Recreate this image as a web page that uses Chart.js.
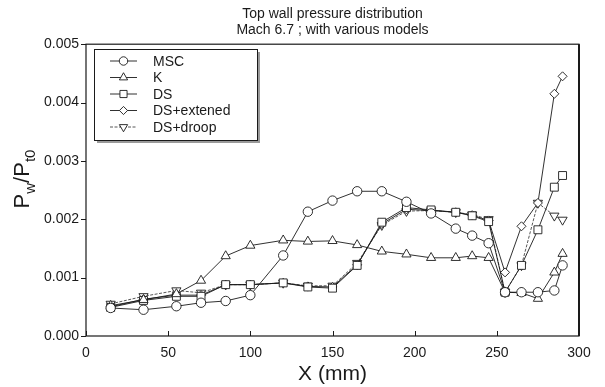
<!DOCTYPE html>
<html>
<head>
<meta charset="utf-8">
<script src="https://cdn.jsdelivr.net/npm/chart.js@4.4.1/dist/chart.umd.min.js"></script>
<style>
html,body{margin:0;padding:0;background:#fff;}
#wrap{width:605px;height:387px;position:relative;}
</style>
</head>
<body>
<div id="wrap"><canvas id="c" width="605" height="387"></canvas></div>
<script>
// ---- data ----
const xPositions = [15,35,55,70,85,100,120,135,150,165,180,195,210,225,235,245,255,265,275,285,290];
const seriesNames = ["MSC","K","DS","DS+extened","DS+droop"];
const msc      = [0.48,0.45,0.51,0.57,0.60,0.70,1.38,2.13,2.32,2.48,2.48,2.30,2.10,1.84,1.72,1.59,0.75,0.75,0.75,0.78,1.21];
const kModel   = [0.52,0.62,0.72,0.95,1.37,1.55,1.64,1.62,1.63,1.56,1.45,1.40,1.34,1.34,1.37,1.34,0.75,0.74,0.64,1.09,1.41];
const ds       = [0.49,0.61,0.68,0.68,0.88,0.88,0.91,0.84,0.82,1.21,1.95,2.20,2.16,2.12,2.06,1.96,0.75,1.21,1.82,2.55,2.75];
const dsExt    = [0.50,0.63,0.70,0.70,0.88,0.88,0.91,0.85,0.84,1.22,1.92,2.17,2.15,2.12,2.07,1.98,1.09,1.88,2.28,4.15,4.45];
const dsDroop  = [0.55,0.68,0.78,0.74,0.88,0.88,0.91,0.86,0.86,1.25,1.90,2.14,2.15,2.12,2.08,2.00,0.75,1.21,2.28,2.06,1.99];
const valueScale = 0.001; // values above are in units of 0.001
const xTicks = [0,50,100,150,200,250,300];
const yTicks = [0,0.001,0.002,0.003,0.004,0.005];
const titleLines = ["Top wall pressure distribution","Mach 6.7 ; with various models"];
const xTitle = "X (mm)";

const FONT = "'Liberation Sans', Arial, Helvetica, sans-serif";
const INK = "#1a1a1a";

function pts(arr){ return arr.map((v,i)=>({x:xPositions[i], y:v*valueScale})); }

const styles = [
  {pointStyle:'circle', rot:0, r:4.7, dash:[] , line:INK},
  {pointStyle:'triangle', rot:0, r:5.3, dash:[], line:INK},
  {pointStyle:'rect', rot:0, r:5.6, dash:[], line:INK},
  {pointStyle:'rectRot', rot:0, r:4.5, dash:[], line:INK},
  {pointStyle:'triangle', rot:180, r:5.3, dash:[3,1.5], line:"#444"}
];
const allData = [msc,kModel,ds,dsExt,dsDroop];

const datasets = allData.map((d,i)=>({
  label: seriesNames[i],
  data: pts(d),
  borderColor: styles[i].line,
  borderWidth: 0.9,
  borderDash: styles[i].dash,
  pointStyle: styles[i].pointStyle,
  pointRotation: styles[i].rot,
  pointRadius: styles[i].r,
  pointBackgroundColor: '#fff',
  pointBorderColor: INK,
  pointBorderWidth: 0.9,
  tension: 0,
  fill: false
}));

const decor = {
  id:'decor',
  afterDatasetsDraw(chart){
    const ctx = chart.ctx, a = chart.chartArea;
    const xs = chart.scales.x, ys = chart.scales.y;
    ctx.save();
    // frame
    ctx.strokeStyle = INK; ctx.lineWidth = 1.2;
    ctx.strokeRect(a.left, a.top, a.right-a.left, a.bottom-a.top);
    ctx.lineWidth = 2; ctx.beginPath(); ctx.moveTo(a.right, a.top); ctx.lineTo(a.right,a.bottom); ctx.stroke();
    // x ticks (inside)
    ctx.lineWidth = 1;
    xTicks.forEach(t=>{ const px = Math.round(xs.getPixelForValue(t))+0.5;
      ctx.beginPath(); ctx.moveTo(px,a.bottom); ctx.lineTo(px,a.bottom-5); ctx.stroke(); });
    // y ticks (outside)
    yTicks.forEach(t=>{ const py = Math.round(ys.getPixelForValue(t))+0.5;
      ctx.beginPath(); ctx.moveTo(a.left-5,py); ctx.lineTo(a.left,py); ctx.stroke(); });
    // legend
    const L = {x:94, y:49, w:163, h:91};
    ctx.fillStyle = '#9a9a9a';
    ctx.fillRect(L.x+3, L.y+3, L.w, L.h);
    ctx.fillStyle = '#fff';
    ctx.fillRect(L.x, L.y, L.w, L.h);
    ctx.strokeStyle = INK; ctx.lineWidth = 1;
    ctx.strokeRect(L.x+0.5, L.y+0.5, L.w, L.h);
    ctx.font = "14px " + FONT;
    ctx.textBaseline = 'middle'; ctx.textAlign = 'left';
    seriesNames.forEach((n,i)=>{
      const yy = L.y + 12 + i*16.5;
      ctx.strokeStyle = styles[i].line; ctx.lineWidth = 0.9;
      ctx.setLineDash(styles[i].dash);
      ctx.beginPath(); ctx.moveTo(110,yy); ctx.lineTo(137,yy); ctx.stroke();
      ctx.setLineDash([]);
      ctx.fillStyle = '#fff'; ctx.strokeStyle = INK;
      Chart.helpers.drawPoint(ctx, {pointStyle:styles[i].pointStyle, rotation:styles[i].rot, radius:styles[i].r*0.9, borderWidth:0.9}, 123.5, yy);
      ctx.fillStyle = INK;
      ctx.fillText(n, 153, yy+1);
    });
    // y axis title P_w/P_t0 (rotated)
    ctx.save();
    ctx.translate(29, 179);
    ctx.rotate(-Math.PI/2);
    const big = "22px " + FONT, small = "15px " + FONT;
    const parts = [["P",big,0],["w",small,6],["/P",big,0],["t0",small,6]];
    let total = 0;
    parts.forEach(p=>{ ctx.font = p[1]; total += ctx.measureText(p[0]).width; });
    let cx = -total/2;
    ctx.textBaseline = 'alphabetic'; ctx.fillStyle = INK;
    parts.forEach(p=>{ ctx.font = p[1]; ctx.fillText(p[0], cx, p[2]); cx += ctx.measureText(p[0]).width; });
    ctx.restore();
    ctx.restore();
  }
};

new Chart(document.getElementById('c'), {
  type:'line',
  data:{datasets},
  options:{
    responsive:false,
    animation:false,
    devicePixelRatio:1,
    layout:{padding:{left:0,right:26,top:0,bottom:0}},
    plugins:{
      legend:{display:false},
      tooltip:{enabled:false},
      title:{display:true, text:titleLines, fullSize:false, color:INK,
        font:{family:FONT, size:14, weight:'normal', lineHeight:1.15},
        padding:{top:6,bottom:6}}
    },
    scales:{
      x:{type:'linear', min:0, max:300,
        afterBuildTicks(s){ s.ticks = xTicks.map(v=>({value:v})); },
        afterFit(s){ s.height = 51; },
        grid:{display:false, drawTicks:false}, border:{display:false},
        ticks:{color:INK, font:{family:FONT,size:14}, padding:9, maxRotation:0},
        title:{display:true, text:xTitle, color:INK, font:{family:FONT,size:21}, padding:{top:0,bottom:0}}
      },
      y:{type:'linear', min:0, max:0.005,
        afterBuildTicks(s){ s.ticks = yTicks.map(v=>({value:v})); },
        afterFit(s){ s.width = 86; },
        grid:{display:false, drawTicks:false}, border:{display:false},
        ticks:{color:INK, font:{family:FONT,size:14}, padding:7, callback:v=>Number(v).toFixed(3)}
      }
    }
  },
  plugins:[decor]
});
</script>
</body>
</html>
